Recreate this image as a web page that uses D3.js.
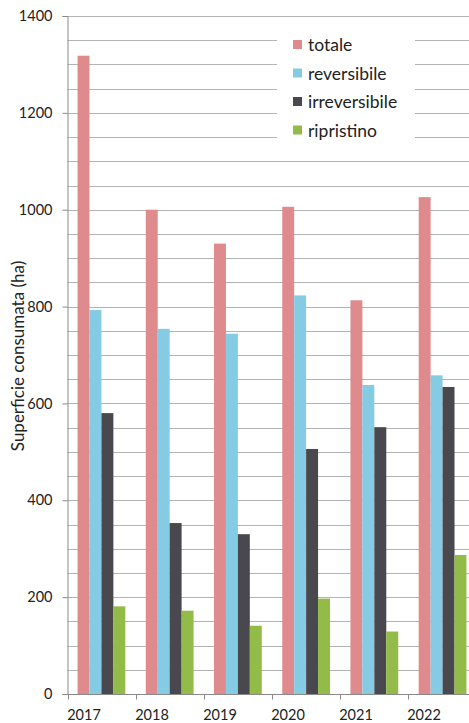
<!DOCTYPE html>
<html>
<head>
<meta charset="utf-8">
<script src="https://cdn.jsdelivr.net/npm/d3@7"></script>
<style>
  html, body { margin: 0; padding: 0; background: #fff; }
  svg { display: block; }
  text { font-family: Lato, "Open Sans", sans-serif; fill: #222; }
</style>
</head>
<body>
<svg id="chart" width="469" height="723"></svg>
<script>
const years = ["2017", "2018", "2019", "2020", "2021", "2022"];
const seriesNames = ["totale", "reversibile", "irreversibile", "ripristino"];
const totale       = [1318, 1000, 930, 1006, 813, 1026];
const reversibile  = [793, 754, 744, 823, 638, 658];
const irreversibile = [580, 353, 330, 506, 551, 634];
const ripristino   = [181, 172, 141, 197, 129, 287];
const colors = ["#df8a8c", "#86cbe4", "#48484e", "#93bb47"];
const yTicks = [0, 200, 400, 600, 800, 1000, 1200, 1400];
const yGrid = d3.range(0, 1401, 50);

const seriesValues = [totale, reversibile, irreversibile, ripristino];
const data = years.map((yr, i) => ({ year: yr, values: seriesNames.map((s, j) => ({ key: s, value: seriesValues[j][i], color: colors[j] })) }));

const svg = d3.select("#chart");
const plotLeft = 67.5, plotTop = 16, plotBottom = 694;

const y = d3.scaleLinear().domain([0, 1400]).range([plotBottom, plotTop]);
const xCat = d3.scaleBand().domain(years).range([68, 476]).padding(0);
const x0 = d3.scaleBand().domain(years).range([68, 476]).paddingInner(0.3).paddingOuter(0.14);
const x1 = d3.scaleBand().domain(seriesNames).range([0, x0.bandwidth()]).padding(0);

// gridlines
svg.append("g").selectAll("line").data(yGrid).join("line")
  .attr("x1", plotLeft).attr("x2", 469)
  .attr("y1", d => Math.round(y(d)) + 0.5).attr("y2", d => Math.round(y(d)) + 0.5)
  .attr("stroke", "#b4b4b4").attr("stroke-width", 1);

// bars
const groups = svg.append("g").selectAll("g").data(data).join("g")
  .attr("transform", d => `translate(${x0(d.year)},0)`);
groups.selectAll("rect").data(d => d.values).join("rect")
  .attr("x", d => x1(d.key))
  .attr("width", x1.bandwidth())
  .attr("y", d => y(d.value))
  .attr("height", d => plotBottom - y(d.value))
  .attr("fill", d => d.color);

// y axis
const yAxis = d3.axisLeft(y).tickValues(yTicks).tickSize(5).tickPadding(10).tickFormat(d3.format("d"));
const gy = svg.append("g").attr("transform", `translate(${plotLeft},0)`).call(yAxis);
gy.select(".domain").attr("stroke", "#8a8a8a");
gy.selectAll(".tick line").attr("stroke", "#8a8a8a");
gy.selectAll(".tick text").style("font-size", "14.5px").style("font-family", "Lato, sans-serif").attr("fill", "#222");

// x axis
const gx = svg.append("g").attr("transform", `translate(0,${plotBottom + 0.5})`);
gx.append("line").attr("x1", plotLeft - 5).attr("x2", 469).attr("y1", 0).attr("y2", 0).attr("stroke", "#8a8a8a");
gx.selectAll(".xt").data(years).join("line").attr("class", "xt")
  .attr("x1", d => xCat(d) + 0.5).attr("x2", d => xCat(d) + 0.5)
  .attr("y1", 0).attr("y2", 5).attr("stroke", "#8a8a8a");
gx.selectAll(".xl").data(years).join("text").attr("class", "xl")
  .attr("text-anchor", "middle")
  .attr("x", d => xCat(d) + 16)
  .attr("y", 719 - plotBottom)
  .style("font-size", "14.5px")
  .text(d => d);

// y axis title
svg.append("text")
  .attr("transform", `translate(24,356) rotate(-90)`)
  .attr("text-anchor", "middle")
  .style("font-size", "17px")
  .text("Superficie consumata (ha)");

// legend
const lg = svg.append("g");
lg.append("rect").attr("x", 277).attr("y", 23).attr("width", 138).attr("height", 125).attr("fill", "#fff");
const items = lg.selectAll("g").data(seriesNames).join("g")
  .attr("transform", (d, i) => `translate(293,${45 + i * 28.5})`);
items.append("rect").attr("x", 0).attr("y", -5).attr("width", 9).attr("height", 9)
  .attr("fill", (d, i) => colors[i]);
items.append("text").attr("x", 15).attr("y", 6)
  .style("font-size", "17.5px")
  .text(d => d);
</script>
</body>
</html>
